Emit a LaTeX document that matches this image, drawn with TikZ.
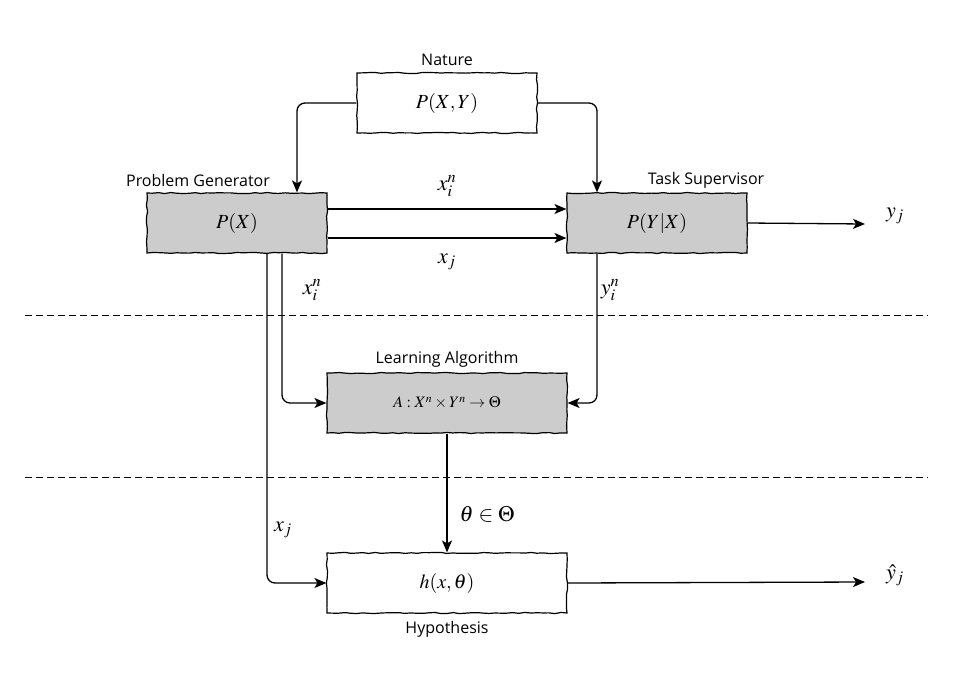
\documentclass[tikz,border=0pt]{standalone}
\usepackage{mathptmx}
\usepackage[no-math]{fontspec}
\newfontfamily\handfont{Open Sans}
\usetikzlibrary{arrows.meta,decorations.pathmorphing}

\begin{document}
\begin{tikzpicture}[x=1pt,y=-1pt]
\pgfmathsetseed{7}
\tikzset{block/.style = {shape=rectangle,draw,line width=1.2pt,minimum width=180pt,minimum height=60pt,inner sep=0pt,font=\fontsize{20}{24}\selectfont,decorate,decoration={random steps,segment length=6pt,amplitude=0.6pt}}}
\tikzset{wideblock/.style = {block,minimum width=240pt}}
\tikzset{shaded/.style = {fill=black!20}}
\tikzset{title/.style = {font=\handfont\fontsize{16}{19}\selectfont}}
\tikzset{sym/.style = {font=\fontsize{22}{26}\selectfont}}
\tikzset{edge/.style = {-{Stealth[length=12pt,width=10pt,inset=3pt]},line width=1.3pt,rounded corners=8pt}}
\tikzset{divider/.style = {line width=0.9pt,dash pattern=on 7pt off 4pt}}

\useasboundingbox (0,0) rectangle (973,675);

%blocks
\node[block] (nature) at (447,103) {$P(X,Y)$};
\node[block,shaded] (gen) at (237,223) {$P(X)$};
\node[block,shaded] (sup) at (657,223) {$P(Y|X)$};
\node[wideblock,shaded,font=\fontsize{16}{19}\selectfont] (learn) at (447,403) {$A:X^n\times Y^n\to\Theta$};
\node[wideblock] (hyp) at (447,583) {$h(x,\theta)$};

%titles
\node[title] (naturetitle) at (447,60) {Nature};
\node[title] (gentitle) at (198,180) {Problem Generator};
\node[title] (suptitle) at (706,180) {Task Supervisor};
\node[title] (learntitle) at (447,359) {Learning Algorithm};
\node[title] (hyptitle) at (447,629) {Hypothesis};

%labels
\node[sym] (ylabel) at (895,216) {$y_j$};
\node[sym] (yhatlabel) at (895,575) {$\hat{y}_j$};
\node[sym] (xinlabel) at (447,186) {$x_i^n$};
\node[sym] (xjlabel) at (447,262) {$x_j$};
\node[sym] (xinlow) at (312,290) {$x_i^n$};
\node[sym] (yinlow) at (610,290) {$y_i^n$};
\node[sym] (thetalabel) at (487,514) {$\theta\in\Theta$};
\node[sym] (xjlow) at (283,530) {$x_j$};

\coordinate (yout) at (865,224);
\coordinate (yhatout) at (865,582);
\coordinate (upleft) at (25,315);
\coordinate (upright) at (928,315);
\coordinate (lowleft) at (25,477);
\coordinate (lowright) at (928,477);

%edges
\draw[edge] (nature.west) -| ([xshift=60pt]gen.north);
\draw[edge] (nature.east) -| ([xshift=-60pt]sup.north);
\draw[edge] ([yshift=14pt]gen.east) -- ([yshift=14pt]sup.west);
\draw[edge] ([yshift=-15pt]gen.east) -- ([yshift=-15pt]sup.west);
\draw[edge] (sup.east) -- (yout);
\draw[edge] ([xshift=45pt]gen.south) |- (learn.west);
\draw[edge] ([xshift=30pt]gen.south) |- (hyp.west);
\draw[edge] ([xshift=-60pt]sup.south) |- (learn.east);
\draw[edge] (learn.south) -- (hyp.north);
\draw[edge] (hyp.east) -- (yhatout);

%dividers
\draw[divider] (upleft) -- (upright);
\draw[divider] (lowleft) -- (lowright);
\end{tikzpicture}
\end{document}
